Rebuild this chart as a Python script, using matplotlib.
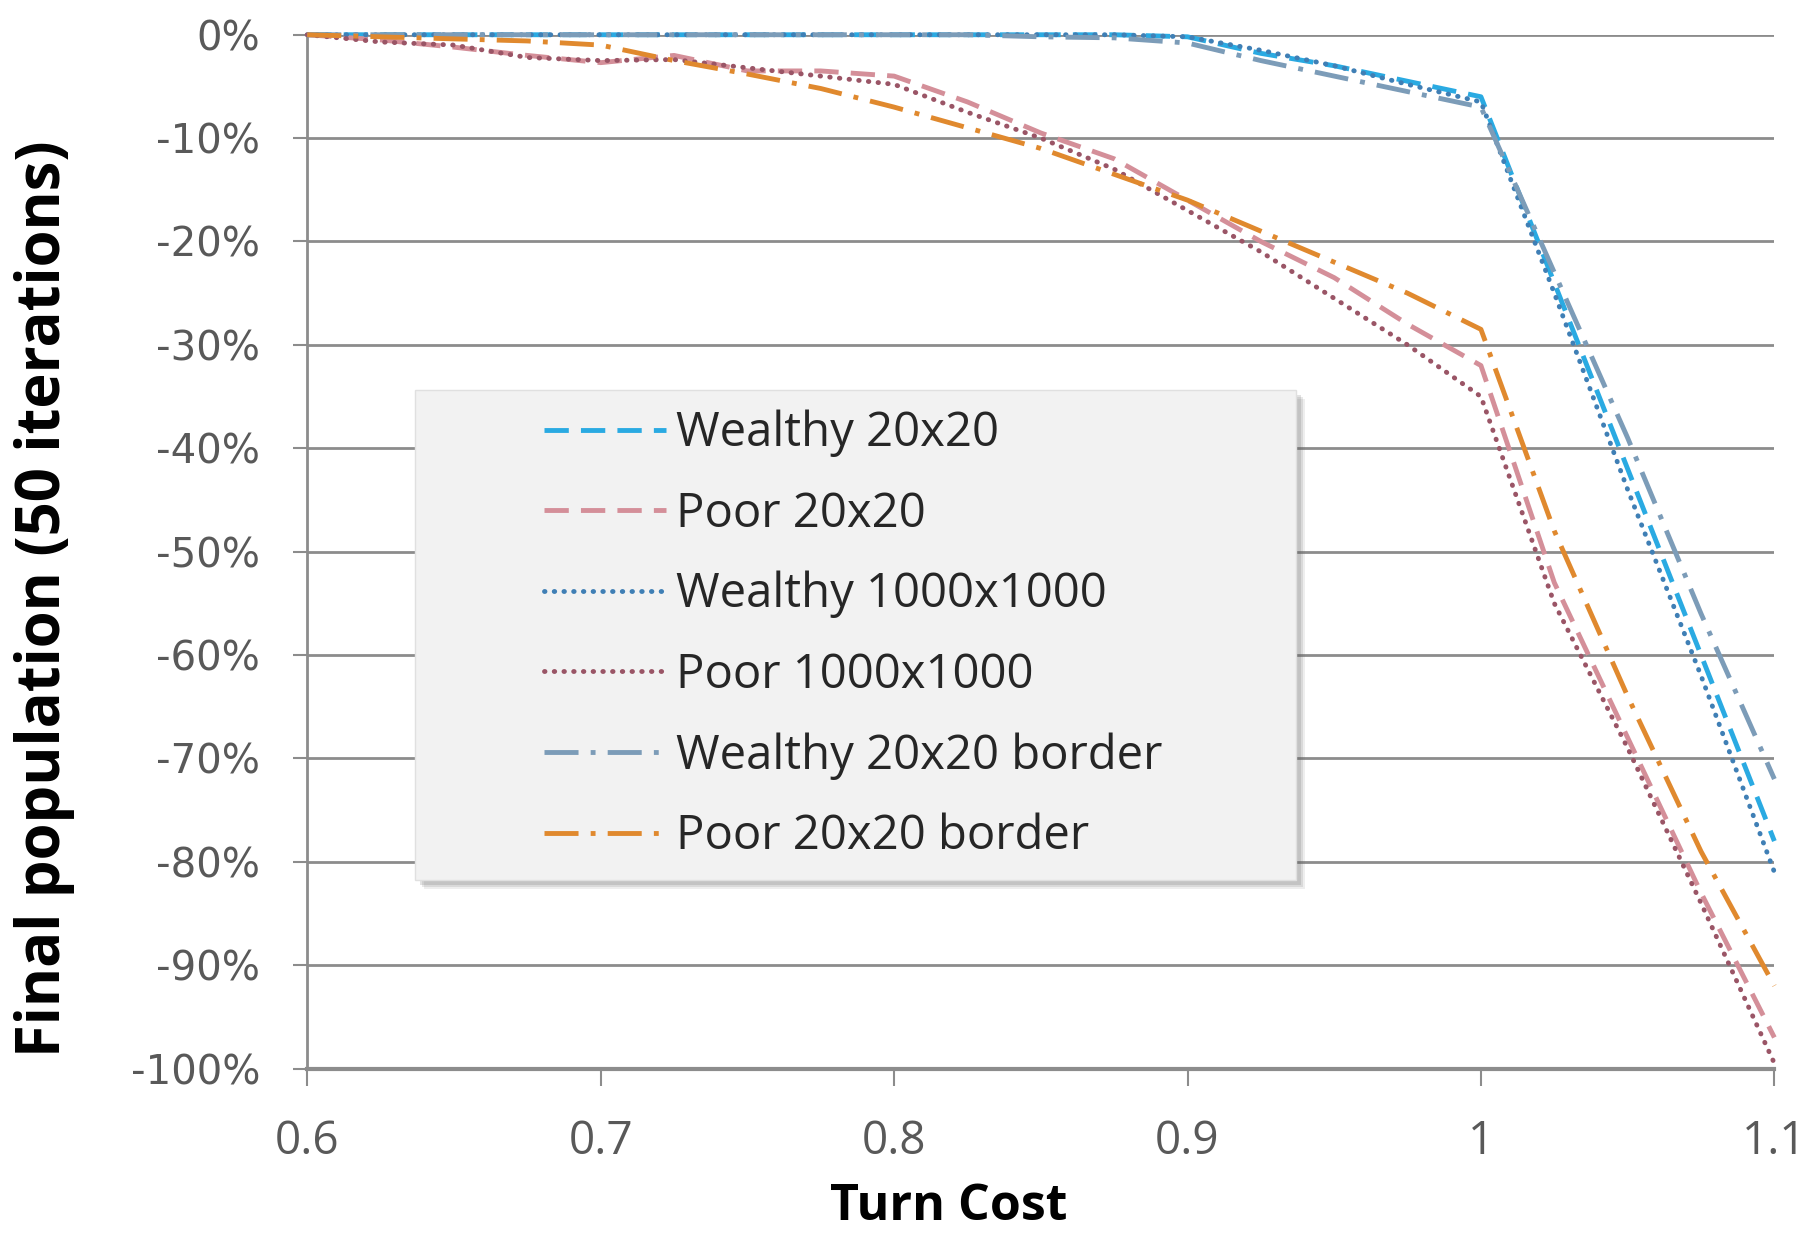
import matplotlib
matplotlib.use("Agg")
import matplotlib.pyplot as plt
from matplotlib.patches import Rectangle
from matplotlib.ticker import FuncFormatter

# turn cost values (x axis)
turn_cost = [0.6, 0.625, 0.65, 0.675, 0.7, 0.725, 0.75, 0.775, 0.8, 0.825, 0.85,
             0.875, 0.9, 0.925, 0.95, 0.975, 1.0, 1.025, 1.05, 1.075, 1.1]

# final population change in percent
wealthy_20 = [0, 0, 0, 0, 0, 0, 0, 0, 0, 0, 0,
              0, -0.2, -1.8, -3.0, -4.5, -6.0, -24, -42, -60, -78]
poor_20 = [0, -0.5, -1.2, -2.0, -2.7, -2.0, -3.5, -3.5, -4.0, -6.5, -9.5,
           -12, -16, -20, -23.5, -28, -32, -53, -68, -83, -97]
wealthy_1000 = [0, 0, 0, 0, 0, 0, 0, 0, 0, 0, 0,
                0, -0.2, -1.5, -3.0, -4.8, -6.5, -25, -44, -62, -81]
poor_1000 = [0, -0.7, -1.0, -2.2, -2.5, -2.4, -3.2, -4.0, -4.8, -7.5, -10,
             -13, -17, -21, -25.5, -30, -35, -55, -69, -84, -99.5]
wealthy_20_border = [0, 0, 0, 0, 0, 0, 0, 0, 0, 0, -0.2,
                     -0.3, -0.8, -2.5, -4.0, -5.5, -7.0, -23, -39, -56, -72]
poor_20_border = [0, -0.2, -0.4, -0.6, -1.0, -2.5, -3.8, -5.2, -7.0, -9.0, -11,
                  -13.5, -16, -19, -22, -25, -28.5, -48, -64, -79, -92]

series_labels = ["Wealthy 20x20", "Poor 20x20", "Wealthy 1000x1000",
                 "Poor 1000x1000", "Wealthy 20x20 border", "Poor 20x20 border"]
x_ticks = [0.6, 0.7, 0.8, 0.9, 1.0, 1.1]
x_ticklabels = ["0.6", "0.7", "0.8", "0.9", "1", "1.1"]
y_ticks = [0, -10, -20, -30, -40, -50, -60, -70, -80, -90, -100]

series = [wealthy_20, poor_20, wealthy_1000, poor_1000, wealthy_20_border, poor_20_border]
colors = ["#2AAAE2", "#D48F99", "#3F7FB5", "#9A5566", "#7C9CB8", "#E0892E"]
DOT = (0.1, 1.9)
dashes = [(5, 2.5), (5, 2.5), DOT, DOT, (7, 2.5, 1, 2.5), (7, 2.5, 1, 2.5)]

plt.rcParams["font.family"] = ["Open Sans", "DejaVu Sans"]

fig = plt.figure(figsize=(18.18, 12.41), dpi=100)
ax = fig.add_axes([0.169, 0.139, 0.807, 0.833])

for vals, lab, col, ds in zip(series, series_labels, colors, dashes):
    ln, = ax.plot(turn_cost, vals, color=col, lw=3.5, label=lab, clip_on=False, zorder=3)
    ln.set_dashes(ds)
    if ds == DOT:
        ln.set_dash_capstyle("round")

ax.set_xlim(0.6, 1.1)
ax.set_ylim(-100, 0)
ax.set_xticks(x_ticks)
ax.set_xticklabels(x_ticklabels)
ax.set_yticks(y_ticks)
ax.yaxis.set_major_formatter(FuncFormatter(lambda v, p: f"{abs(v):.0f}%" if v == 0 else f"{v:.0f}%"))

ax.grid(axis="y", color="#8C8C8C", lw=2)
ax.set_axisbelow(True)
for s in ["top", "right"]:
    ax.spines[s].set_visible(False)
ax.spines["left"].set_color("#8C8C8C")
ax.spines["left"].set_linewidth(2)
ax.spines["bottom"].set_color("#8C8C8C")
ax.spines["bottom"].set_linewidth(3)
ax.tick_params(axis="x", length=12, width=1.5, color="#8C8C8C", pad=24,
               labelsize=33, labelcolor="#595959")
ax.tick_params(axis="y", length=10, width=1.5, color="#8C8C8C", pad=24,
               labelsize=29, labelcolor="#595959")
for t in ax.get_yticklabels():
    t.set_fontfamily("DejaVu Sans")

ax.set_xlabel("Turn Cost", fontsize=36, fontweight="bold")
ax.xaxis.set_label_coords(0.437, -0.110)
ax.set_ylabel("Final population (50 iterations)", fontsize=43, fontweight="bold")
ax.yaxis.set_label_coords(-0.158, 0.454)

# legend box with soft shadow
box_x, box_y, box_w, box_h = 0.0736, 0.182, 0.6006, 0.474
for i, a in enumerate([0.10, 0.14, 0.18]):
    off = 0.006 - i * 0.0015
    ax.add_patch(Rectangle((box_x + off, box_y - off * 1.4), box_w, box_h,
                           transform=ax.transAxes, facecolor="#606060", alpha=a,
                           edgecolor="none", zorder=4))
ax.add_patch(Rectangle((box_x, box_y), box_w, box_h, transform=ax.transAxes,
                       facecolor="#F2F2F2", edgecolor="#E0E0E0", lw=1, zorder=5))

leg = ax.legend(loc="upper left", bbox_to_anchor=(0.145, 0.66), frameon=False,
                fontsize=34, handlelength=2.6, handletextpad=0.2,
                labelspacing=0.70, borderpad=0)
leg.set_zorder(6)
for t in leg.get_texts():
    t.set_color("#262626")

fig.savefig("out.png", dpi=100)
